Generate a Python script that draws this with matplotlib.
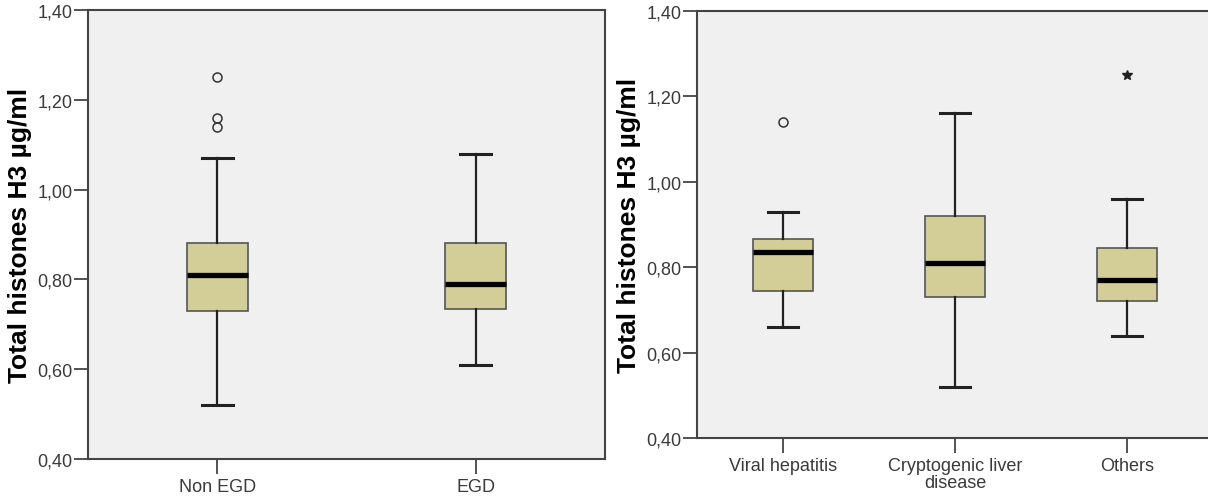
import matplotlib
matplotlib.use("Agg")
import matplotlib.pyplot as plt
from matplotlib import font_manager

# left panel: Non EGD vs EGD
groups_a = ["Non EGD", "EGD"]
low_a = [0.52, 0.61]
q1_a = [0.73, 0.735]
med_a = [0.81, 0.79]
q3_a = [0.88, 0.88]
high_a = [1.07, 1.08]
out_a = [[1.25, 1.16, 1.14], []]
extreme_a = [[], []]

# right panel: aetiology
groups_b = ["Viral hepatitis", "Cryptogenic liver\ndisease", "Others"]
low_b = [0.66, 0.52, 0.64]
q1_b = [0.745, 0.73, 0.72]
med_b = [0.836, 0.81, 0.77]
q3_b = [0.866, 0.92, 0.846]
high_b = [0.93, 1.16, 0.96]
out_b = [[1.14], [], []]
extreme_b = [[], [], [1.25]]

yticks = [0.40, 0.60, 0.80, 1.00, 1.20, 1.40]
ylabel = "Total histones H3 \u00b5g/ml"

names = {f.name for f in font_manager.fontManager.ttflist}
if "Liberation Sans Narrow" in names:
    tick_font, tick_size = "Liberation Sans Narrow", 15
else:
    tick_font, tick_size = "Liberation Sans", 13

W, H = 1208, 502
fig = plt.figure(figsize=(W / 100, H / 100), dpi=100)

BOX_FILL = "#d3ce98"
BG = "#f0f0f0"


def draw_panel(rect, groups, low, q1, med, q3, high, outs, extremes, width_frac):
    ax = fig.add_axes([rect[0] / W, 1 - rect[3] / H, (rect[2] - rect[0]) / W, (rect[3] - rect[1]) / H])
    ax.set_facecolor(BG)
    stats = []
    for i in range(len(groups)):
        stats.append(dict(whislo=low[i], q1=q1[i], med=med[i], q3=q3[i], whishi=high[i], fliers=outs[i]))
    pos = list(range(1, len(groups) + 1))
    ax.bxp(stats, positions=pos, widths=width_frac, patch_artist=True, showfliers=True,
           boxprops=dict(facecolor=BOX_FILL, edgecolor="#555555", linewidth=1.2),
           medianprops=dict(color="black", linewidth=3.8, solid_capstyle="butt"),
           whiskerprops=dict(color="#222222", linewidth=1.6),
           capprops=dict(color="#222222", linewidth=2.2),
           capwidths=width_frac * 0.5,
           flierprops=dict(marker="o", markersize=6.5, markerfacecolor="none",
                           markeredgecolor="#333333", markeredgewidth=1.1))
    for i, ex in enumerate(extremes):
        if ex:
            ax.plot([pos[i]] * len(ex), ex, linestyle="none", marker="*", markersize=7,
                    color="#222222")
    ax.set_xlim(0.5, len(groups) + 0.5)
    ax.set_ylim(0.40, 1.40)
    ax.set_yticks(yticks)
    ax.set_yticklabels([f"{t:.2f}".replace(".", ",") for t in yticks])
    ax.set_xticks(pos)
    ax.set_xticklabels(groups, linespacing=1.0)
    for lab in ax.get_xticklabels() + ax.get_yticklabels():
        lab.set_fontfamily(tick_font)
        lab.set_fontsize(tick_size)
        lab.set_color("#3a3a3a")
    ax.tick_params(axis="y", length=10, width=1.3, color="#444444", pad=1)
    ax.tick_params(axis="x", length=11, width=1.3, color="#444444", pad=3)
    for s in ax.spines.values():
        s.set_color("#444444")
        s.set_linewidth(1.5)
    ax.set_ylabel(ylabel, fontsize=19, fontweight="bold", family="Liberation Sans", labelpad=4)
    return ax


ax1 = draw_panel((88, 11, 605, 460), groups_a, low_a, q1_a, med_a, q3_a, high_a, out_a, extreme_a, 0.237)
ax2 = draw_panel((697, 12, 1213, 439), groups_b, low_b, q1_b, med_b, q3_b, high_b, out_b, extreme_b, 0.35)
ax2.spines["right"].set_visible(False)

fig.savefig("out.png", dpi=100, facecolor="white")
